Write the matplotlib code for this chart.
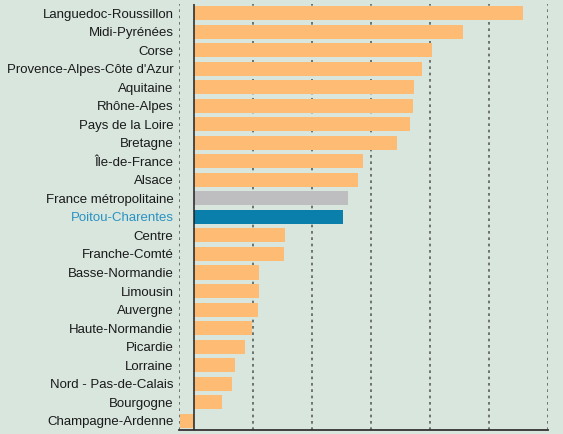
import matplotlib.pyplot as plt
import numpy as np

regions = [
    "Languedoc-Roussillon", "Midi-Pyrénées", "Corse", "Provence-Alpes-Côte d'Azur",
    "Aquitaine", "Rhône-Alpes", "Pays de la Loire", "Bretagne", "Île-de-France",
    "Alsace", "France métropolitaine", "Poitou-Charentes", "Centre", "Franche-Comté",
    "Basse-Normandie", "Limousin", "Auvergne", "Haute-Normandie", "Picardie",
    "Lorraine", "Nord - Pas-de-Calais", "Bourgogne", "Champagne-Ardenne",
]
values = [
    5.58, 4.57, 4.03, 3.86, 3.74, 3.72, 3.67, 3.45, 2.87, 2.79, 2.62, 2.53,
    1.55, 1.53, 1.11, 1.11, 1.08, 0.99, 0.87, 0.70, 0.65, 0.48, -0.23,
]
ticks = [0, 1, 2, 3, 4, 5, 6]

BG = '#d8e6de'
ORANGE = '#fdbb73'
GREY = '#bebec1'
BLUE = '#0a7fab'
LABEL_BLUE = '#2a92c2'

plt.rcParams['font.family'] = ['Liberation Sans', 'DejaVu Sans']

fig = plt.figure(figsize=(5.63, 4.34), dpi=100, facecolor=BG)
ax = fig.add_axes([0.318, 0.0092, 0.655, 0.982])
ax.set_facecolor(BG)

colors = []
for name in regions:
    if name == "France métropolitaine":
        colors.append(GREY)
    elif name == "Poitou-Charentes":
        colors.append(BLUE)
    else:
        colors.append(ORANGE)

y = np.arange(len(regions))
ax.barh(y, values, height=0.76, color=colors, zorder=2)

ax.set_xlim(-0.25, 6.0)
ax.set_ylim(len(regions) - 0.5, -0.5)

# gridlines en pointillés
for t in ticks[1:]:
    ax.axvline(t, color='#5a5f5c', linestyle=(0, (1.6, 2.2)), linewidth=1.2, zorder=1)
ax.axvline(-0.25, color='#5a5f5c', linestyle=(0, (1.6, 2.2)), linewidth=1.2, zorder=1)
ax.axvline(0, color='#222222', linewidth=1.1, zorder=3)

for s in ['top', 'right', 'left']:
    ax.spines[s].set_visible(False)
ax.spines['bottom'].set_color('#333333')
ax.spines['bottom'].set_linewidth(1.3)

ax.set_xticks([])
ax.set_yticks(y)
ax.set_yticklabels(regions, fontsize=9.5)
ax.tick_params(axis='y', length=0, pad=4)
for lbl in ax.get_yticklabels():
    lbl.set_color('#1a1a1a')
    if lbl.get_text() == "Poitou-Charentes":
        lbl.set_color(LABEL_BLUE)

fig.savefig('out.png', dpi=100, facecolor=BG)
